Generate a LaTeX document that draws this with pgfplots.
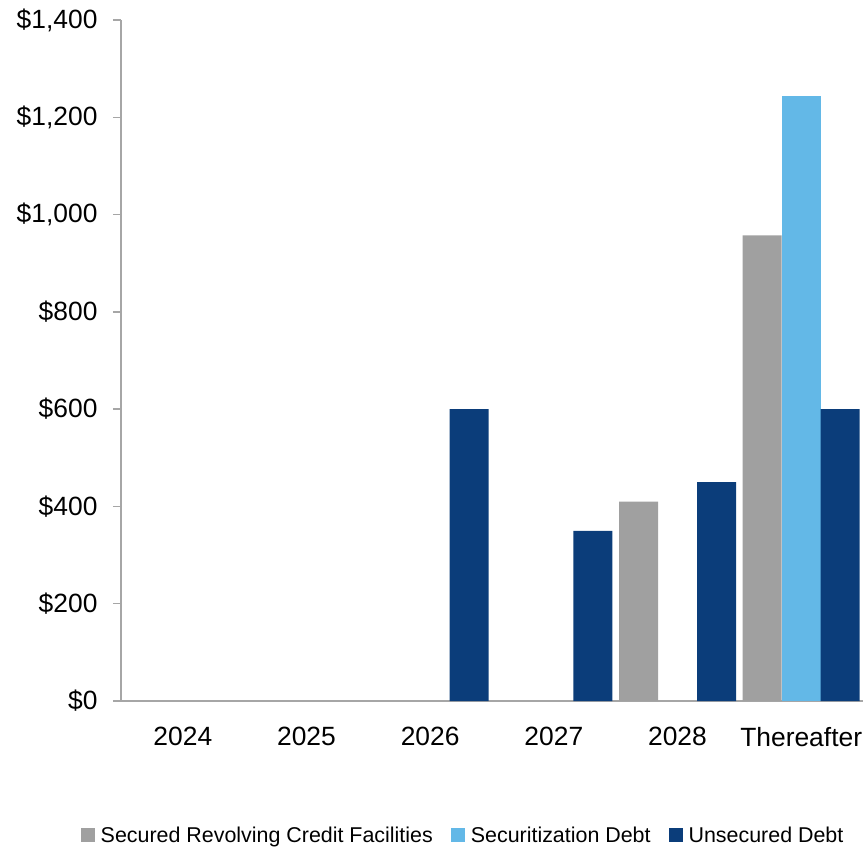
\documentclass[border=0pt]{standalone}
\usepackage{fontspec}
\setmainfont{Liberation Sans}
\usepackage{pgfplots}
\pgfplotsset{compat=1.18}
\definecolor{secgray}{HTML}{A0A0A0}
\definecolor{seclight}{HTML}{63B8E7}
\definecolor{unsnavy}{HTML}{0B3D7A}
\definecolor{axgray}{HTML}{A6A6A6}
\begin{document}
\begin{tikzpicture}
\begin{axis}[
  scale only axis,
  width=742bp, height=681bp,
  ybar=0pt, bar width=39bp,
  xmin=-0.5, xmax=5.5,
  ymin=0, ymax=1400,
  xtick={0,1,2,3,4,5},
  xticklabels={2024,2025,2026,2027,2028,Thereafter},
  ytick={0,200,400,600,800,1000,1200,1400},
  yticklabels={\$0,\$200,\$400,\$600,\$800,{\$1,000},{\$1,200},{\$1,400}},
  axis x line*=bottom, axis y line*=left,
  axis line style={axgray, line width=1.5bp, -},
  x tick style={draw=none},
  y tick style={axgray, line width=1.5bp},
  tick align=outside, major tick length=8bp,
  ticklabel style={font=\fontsize{26.5}{31}\selectfont, text=black},
  yticklabel style={xshift=-12bp},
  xticklabel style={yshift=-15bp},
  legend style={at={(0.461,-0.197)}, anchor=center, draw=none, legend columns=-1,
    font=\fontsize{21.5}{26}\selectfont,
    /tikz/every odd column/.append style={column sep=4bp},
    /tikz/every even column/.append style={column sep=16bp}},
  legend image code/.code={\fill[#1] (0bp,-7bp) rectangle (14bp,7bp);},
]
\addplot[fill=secgray, draw=none] coordinates {(4,410) (5,957)};
\addplot[fill=seclight, draw=none] coordinates {(5,1243)};
\addplot[fill=unsnavy, draw=none] coordinates {(2,600) (3,350) (4,450) (5,600)};
\legend{Secured Revolving Credit Facilities, Securitization Debt, Unsecured Debt}
\end{axis}
\pgfresetboundingbox
\path[use as bounding box] ([xshift=-121bp,yshift=-149bp]current axis.south west) rectangle ([xshift=2bp,yshift=20bp]current axis.north east);
\end{tikzpicture}
\end{document}
